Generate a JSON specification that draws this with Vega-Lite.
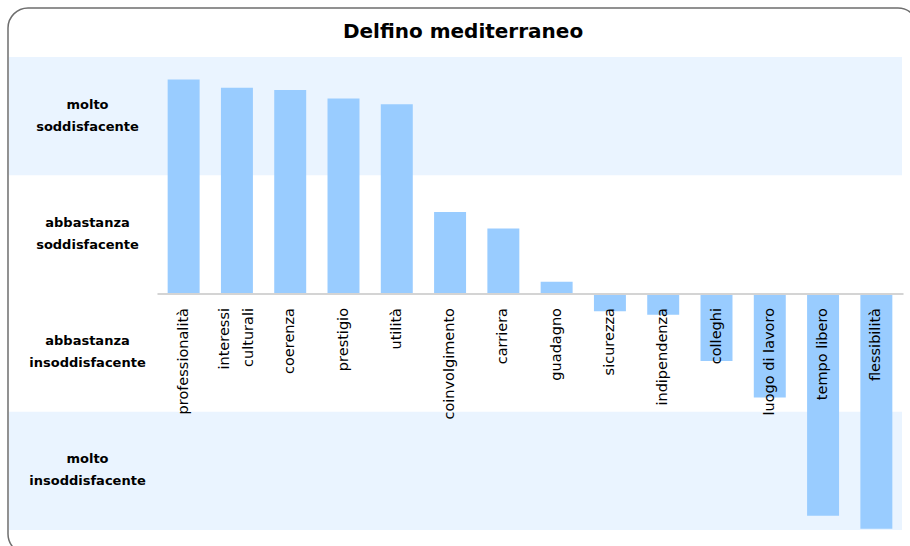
{
  "$schema": "https://vega.github.io/schema/vega-lite/v6.json",
  "width": 910,
  "height": 546,
  "autosize": {"type": "none"},
  "padding": {"left": 8, "top": 8, "right": -8, "bottom": -8},
  "background": "white",
  "config": {
    "view": {"stroke": "#6e6e6e", "strokeWidth": 1.5, "cornerRadius": 20, "fill": "white"}
  },
  "title": {
    "text": "Delfino mediterraneo",
    "font": "DejaVu Sans",
    "fontSize": 20,
    "fontWeight": "bold",
    "color": "#000000",
    "anchor": "middle",
    "offset": -33.5
  },
  "encoding": {
    "y": {
      "field": "value",
      "type": "quantitative",
      "scale": {"domain": [-2, 2], "range": [522, 49], "nice": false, "zero": false},
      "axis": {
        "values": [1.5, 0.5, -0.5, -1.5],
        "labelExpr": "datum.value == 1.5 ? ['molto','soddisfacente'] : datum.value == 0.5 ? ['abbastanza','soddisfacente'] : datum.value == -0.5 ? ['abbastanza','insoddisfacente'] : ['molto','insoddisfacente']",
        "offset": -79,
        "ticks": false,
        "tickSize": 0,
        "domain": false,
        "grid": false,
        "labelPadding": 0,
        "labelOffset": -12,
        "labelAlign": "center",
        "labelBaseline": "middle",
        "labelFont": "DejaVu Sans",
        "labelFontWeight": "bold",
        "labelFontSize": 13,
        "labelLineHeight": 22,
        "labelColor": "#000000",
        "title": null,
        "zindex": 1,
        "labelOverlap": false,
        "labelFlush": false,
        "labelBound": false
      }
    }
  },
  "layer": [
    {
      "data": {"values": [
        {"value": 2, "value2": 1, "x0": 0, "x1": 1},
        {"value": -1, "value2": -2, "x0": 0, "x1": 1}
      ]},
      "mark": {"type": "rect", "color": "#EAF4FF"},
      "encoding": {
        "x": {"field": "x0", "type": "quantitative", "scale": {"domain": [0, 1], "range": [1, 894], "nice": false, "zero": false}, "axis": null},
        "x2": {"field": "x1"},
        "y2": {"field": "value2"}
      }
    },
    {
      "data": {"values": [
        {"cat": "professionalità", "value": 1.81},
        {"cat": "interessi culturali", "value": 1.74},
        {"cat": "coerenza", "value": 1.72},
        {"cat": "prestigio", "value": 1.65},
        {"cat": "utilità", "value": 1.6},
        {"cat": "coinvolgimento", "value": 0.69},
        {"cat": "carriera", "value": 0.55},
        {"cat": "guadagno", "value": 0.1},
        {"cat": "sicurezza", "value": -0.15},
        {"cat": "indipendenza", "value": -0.18},
        {"cat": "colleghi", "value": -0.57},
        {"cat": "luogo di lavoro", "value": -0.88},
        {"cat": "tempo libero", "value": -1.88},
        {"cat": "flessibilità", "value": -1.99}
      ]},
      "mark": {"type": "bar", "color": "#99CCFF"},
      "encoding": {
        "x": {
          "field": "cat",
          "type": "nominal",
          "sort": null,
          "scale": {"range": [149, 895], "paddingInner": 0.4, "paddingOuter": 0.2},
          "axis": {
            "orient": "bottom",
            "offset": -260.5,
            "title": null,
            "ticks": false,
            "tickSize": 0,
            "labelPadding": 14,
            "labelOffset": {"condition": {"test": "datum.value == 'interessi culturali'", "value": -12}, "value": 0},
            "labelAngle": -90,
            "labelAlign": "right",
            "labelBaseline": "middle",
            "labelFont": "DejaVu Sans",
            "labelFontSize": 14.5,
            "labelColor": "#000000",
            "labelLineHeight": 24,
            "labelLimit": 0,
            "labelOverlap": false,
            "domainColor": "#d4d4d4",
            "domainWidth": 2,
            "grid": false,
            "zindex": 1,
            "labelExpr": "datum.value == 'interessi culturali' ? ['interessi','culturali'] : datum.value"
          }
        }
      }
    }
  ],
  "resolve": {"scale": {"x": "independent"}}
}
